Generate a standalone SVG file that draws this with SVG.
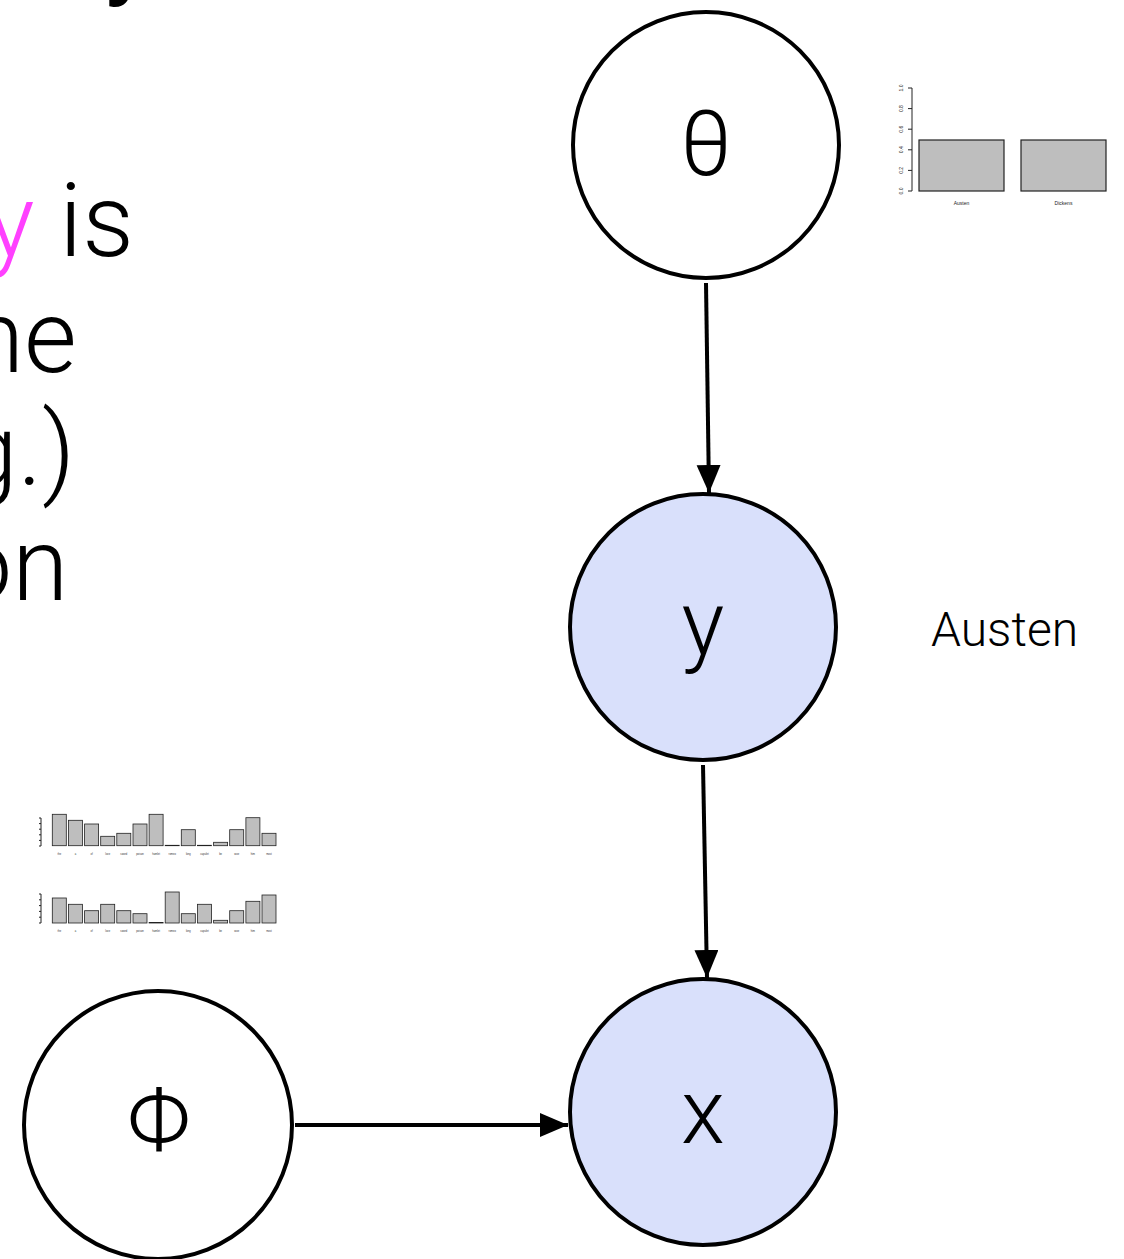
<svg xmlns="http://www.w3.org/2000/svg" width="1124" height="1259" viewBox="0 0 1124 1259">
  <style>
    .body { font-family: Roboto, "Liberation Sans", sans-serif; font-weight: 300; fill: #000; }
    .node circle { stroke: #000; stroke-width: 4; }
    .plain { fill: #fff; }
    .obs { fill: #D9E0FB; }
    .lbl { font-family: Roboto, "Liberation Sans", sans-serif; font-weight: 300; font-size: 90px; text-anchor: middle; fill: #000; }
    .edge { stroke: #000; stroke-width: 4; fill: none; marker-end: url(#head); }
    .bar { fill: #BEBEBE; stroke: #222; stroke-width: 1.2; }
    .sbar { fill: #BEBEBE; stroke: #222; stroke-width: 0.8; }
    .axis { stroke: #222; stroke-width: 1; fill: none; }
    .tick { font-family: "Liberation Sans", Arial, sans-serif; font-size: 5px; fill: #222; text-anchor: middle; }
    .stick { font-family: "Liberation Sans", Arial, sans-serif; font-size: 2.6px; fill: #333; text-anchor: middle; }
  </style>
  <defs>
    <marker id="head" markerUnits="userSpaceOnUse" markerWidth="30" markerHeight="28" refX="28" refY="12" orient="auto">
      <path d="M0,0 L28,12 L0,24 Z" fill="#000"/>
    </marker>
  </defs>

  <rect width="1124" height="1259" fill="#fff"/>

  <!-- slide text, running off the left and top edges -->
  <text class="body" x="104" y="-12" style="font-weight:700;font-size:90px">y</text>
  <text class="body" x="-14" y="256" font-size="102"><tspan fill="#FF40FF">y</tspan> is</text>
  <text class="body" x="-32" y="372" font-size="102">ne</text>
  <text class="body" x="-39" y="485" font-size="102">g.)</text>
  <text class="body" x="-45" y="600" font-size="102">on</text>

  <!-- connectors -->
  <g id="edges">
    <line class="edge" x1="706" y1="283" x2="709" y2="493"/>
    <line class="edge" x1="703" y1="765" x2="707" y2="978"/>
    <line class="edge" x1="295" y1="1125" x2="568" y2="1125"/>
  </g>

  <!-- nodes -->
  <g id="theta" class="node">
    <circle class="plain" cx="706" cy="145" r="133"/>
    <text class="lbl" x="706" y="175">θ</text>
  </g>
  <g id="y" class="node">
    <circle class="obs" cx="703" cy="627" r="133"/>
    <text class="lbl" x="703" y="655">y</text>
  </g>
  <g id="x" class="node">
    <circle class="obs" cx="703" cy="1112" r="133"/>
    <text class="lbl" x="703" y="1143">x</text>
  </g>
  <g id="phi" class="node">
    <circle class="plain" cx="158" cy="1125" r="134"/>
    <text class="lbl" x="159" y="1152">Φ</text>
  </g>

  <text id="austen-label" class="body" x="931" y="646" font-size="48">Austen</text>

  <!-- prior over authors -->
  <g id="theta-chart">
    <path class="axis" d="M912,88 V191 M912,88 h-4 M912,108.6 h-4 M912,129.2 h-4 M912,149.8 h-4 M912,170.4 h-4 M912,191 h-4"/>
    <g class="tick">
      <text transform="translate(903,191) rotate(-90)">0.0</text>
      <text transform="translate(903,170.4) rotate(-90)">0.2</text>
      <text transform="translate(903,149.8) rotate(-90)">0.4</text>
      <text transform="translate(903,129.2) rotate(-90)">0.6</text>
      <text transform="translate(903,108.6) rotate(-90)">0.8</text>
      <text transform="translate(903,88) rotate(-90)">1.0</text>
    </g>
    <rect class="bar" x="919" y="140" width="85" height="51"/>
    <rect class="bar" x="1021" y="140" width="85" height="51"/>
    <text class="tick" x="961.5" y="205">Austen</text>
    <text class="tick" x="1063.5" y="205">Dickens</text>
  </g>

  <!-- word distributions -->
  <g id="phi-chart-1">
    <path class="axis" d="M41,818 V846 M41,818 h-2 M41,823.6 h-2 M41,829.2 h-2 M41,834.8 h-2 M41,840.4 h-2 M41,846 h-2"/>
    <rect class="sbar" x="52.3" y="814.3" width="14" height="31.4"/>
    <rect class="sbar" x="68.4" y="820.3" width="14" height="25.4"/>
    <rect class="sbar" x="84.6" y="824" width="14" height="21.7"/>
    <rect class="sbar" x="100.7" y="836.3" width="14" height="9.4"/>
    <rect class="sbar" x="116.8" y="833.3" width="14" height="12.4"/>
    <rect class="sbar" x="133" y="824" width="14" height="21.7"/>
    <rect class="sbar" x="149.1" y="814.3" width="14" height="31.4"/>
    <rect class="sbar" x="165.2" y="845.3" width="14" height="0.4"/>
    <rect class="sbar" x="181.3" y="829.7" width="14" height="16"/>
    <rect class="sbar" x="197.5" y="845.3" width="14" height="0.4"/>
    <rect class="sbar" x="213.6" y="842.3" width="14" height="3.4"/>
    <rect class="sbar" x="229.7" y="829.7" width="14" height="16"/>
    <rect class="sbar" x="245.9" y="817.7" width="14" height="28"/>
    <rect class="sbar" x="262" y="833.3" width="14" height="12.4"/>
    <g class="stick">
      <text x="59.3" y="855">the</text><text x="75.4" y="855">a</text><text x="91.6" y="855">of</text>
      <text x="107.7" y="855">love</text><text x="123.8" y="855">sword</text><text x="140" y="855">poison</text>
      <text x="156.1" y="855">hamlet</text><text x="172.2" y="855">romeo</text><text x="188.3" y="855">king</text>
      <text x="204.5" y="855">capulet</text><text x="220.6" y="855">be</text><text x="236.7" y="855">woe</text>
      <text x="252.9" y="855">him</text><text x="269" y="855">most</text>
    </g>
  </g>

  <g id="phi-chart-2">
    <path class="axis" d="M41,894 V923 M41,894 h-2 M41,899.8 h-2 M41,905.6 h-2 M41,911.4 h-2 M41,917.2 h-2 M41,923 h-2"/>
    <rect class="sbar" x="52.3" y="898" width="14" height="25"/>
    <rect class="sbar" x="68.4" y="904.3" width="14" height="18.7"/>
    <rect class="sbar" x="84.6" y="910.7" width="14" height="12.3"/>
    <rect class="sbar" x="100.7" y="904.3" width="14" height="18.7"/>
    <rect class="sbar" x="116.8" y="910.7" width="14" height="12.3"/>
    <rect class="sbar" x="133" y="913.7" width="14" height="9.3"/>
    <rect class="sbar" x="149.1" y="922.6" width="14" height="0.4"/>
    <rect class="sbar" x="165.2" y="892" width="14" height="31"/>
    <rect class="sbar" x="181.3" y="913.7" width="14" height="9.3"/>
    <rect class="sbar" x="197.5" y="904.3" width="14" height="18.7"/>
    <rect class="sbar" x="213.6" y="920.3" width="14" height="2.7"/>
    <rect class="sbar" x="229.7" y="910.7" width="14" height="12.3"/>
    <rect class="sbar" x="245.9" y="901.3" width="14" height="21.7"/>
    <rect class="sbar" x="262" y="895" width="14" height="28"/>
    <g class="stick">
      <text x="59.3" y="932">the</text><text x="75.4" y="932">a</text><text x="91.6" y="932">of</text>
      <text x="107.7" y="932">love</text><text x="123.8" y="932">sword</text><text x="140" y="932">poison</text>
      <text x="156.1" y="932">hamlet</text><text x="172.2" y="932">romeo</text><text x="188.3" y="932">king</text>
      <text x="204.5" y="932">capulet</text><text x="220.6" y="932">be</text><text x="236.7" y="932">woe</text>
      <text x="252.9" y="932">him</text><text x="269" y="932">most</text>
    </g>
  </g>
</svg>
